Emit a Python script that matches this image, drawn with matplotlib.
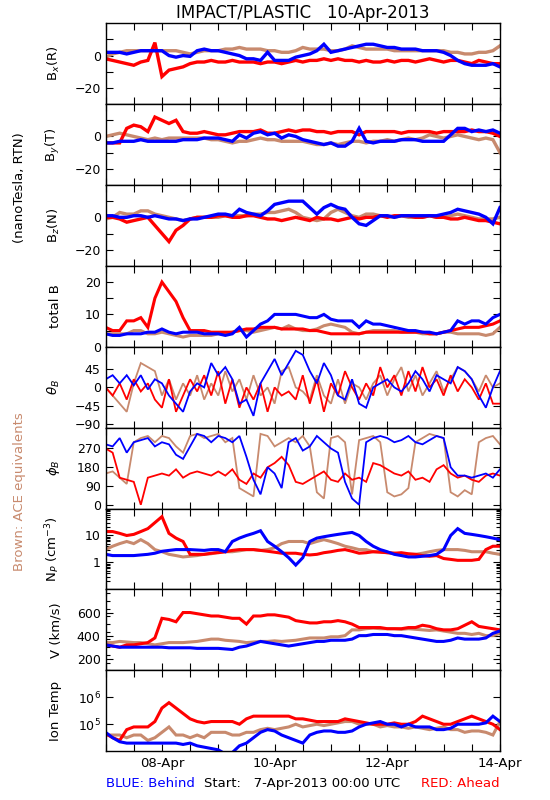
import numpy as np
import matplotlib.pyplot as plt
from matplotlib.ticker import FixedLocator, NullFormatter, LogLocator

# time axis: hours since 7-Apr-2013 00:00, one sample every 3 h
hours = np.arange(0, 169, 3)

bx_red = [-2, -3, -4, -5, -6, -4, -3, 8,
          -13, -9, -8, -7, -5, -4, -4, -3,
          -4, -4, -3, -4, -4, -4, -5, -4,
          -4, -5, -4, -3, -4, -3, -3, -2,
          -3, -2, -3, -3, -4, -3, -4, -4,
          -3, -4, -3, -3, -4, -3, -2, -3,
          -4, -3, -3, -4, -5, -3, -4, -5, -5]
bx_blue = [2, 2, 2, 1, 2, 3, 3, 3,
           3, 0, -1, 0, -0.5, 3, 4, 3,
           3, 2, 1, 0, -2, -2, -3, 2,
           -3, -3, -3, -1, 0, 1, 3, 7,
           2, 3, 4, 5, 6, 7, 7, 6,
           5, 5, 4, 4, 4, 3, 3, 3,
           2, 0, -3, -5, -6, -6, -6, -5, -7]
bx_brown = [-1, 1, 2, 3, 3, 3, 3, 3,
            3, 3, 3, 2, 1, 2, 3, 3,
            3, 4, 4, 5, 4, 4, 4, 3,
            3, 2, 2, 3, 5, 4, 4, 4,
            3, 3, 4, 6, 5, 4, 4, 4,
            4, 3, 3, 3, 3, 3, 3, 3,
            3, 2, 2, 1, 1, 2, 2, 3, 6]

by_red = [-4, -4, -4, 5, 7, 6, 3, 12,
          10, 8, 10, 3, 2, 2, 3, 2,
          1, 1, 2, 3, 3, 3, 4, 2,
          2, 3, 4, 3, 4, 4, 3, 3,
          2, 3, 3, 3, 1, 3, 3, 3,
          3, 3, 2, 3, 3, 3, 3, 2,
          3, 3, 3, 3, 4, 3, 3, 2, 0]
by_blue = [-4, -4, -3, -3, -3, -2, -3, -3,
           -3, -3, -3, -2, -2, -2, -1, -1,
           -1, -2, -3, 1, -1, 2, 3, 1,
           2, -1, 1, 0, -2, -3, -4, -5,
           -4, -6, -6, -3, 5, -3, -4, -3,
           -3, -3, -2, -2, -2, -3, -3, -3,
           -3, 1, 5, 5, 3, 4, 3, 4, 2]
by_brown = [0, 1, 2, 1, 0, -1, -2, -1,
            -2, -1, -1, -1, -1, -1, -1, -2,
            -2, -3, -4, -3, -3, -2, -1, -2,
            -2, -3, -3, -3, -3, -4, -5, -5,
            -4, -5, -4, -3, -3, -4, -3, -3,
            -2, -3, -2, -1, -2, -1, 1, 0,
            -1, 0, 1, 0, -1, -2, -1, -2, -10]

bz_red = [0, 0, -1, -3, -2, -1, 0, -5,
          -10, -15, -8, -5, -1, 0, 0, 0,
          1, 1, 0, 0, 1, 1, 0, -1,
          -1, -2, -1, 0, -1, -2, 0, -1,
          -1, -2, -1, 0, -1, 0, 0, 1,
          0, 1, 1, 1, 0, 0, 1, 0,
          0, -1, -1, 0, -1, -2, -2, -3, -4]
bz_blue = [1, 1, 0, 0, 1, 1, 0, 1,
           0, -1, -1, -2, -1, -1, 0, 1,
           2, 2, 1, 5, 3, 2, 1, 4,
           8, 9, 10, 10, 10, 6, 2, 6,
           8, 6, 5, 0, -4, -5, -2, 1,
           1, 0, 1, 1, 1, 1, 1, 1,
           2, 3, 5, 4, 3, 2, 0, -4, 6]
bz_brown = [-1, 0, 3, 2, 2, 4, 4, 2,
            1, 0, -1, -2, -1, 0, 0, 0,
            0, 1, 1, 1, 1, 2, 2, 3,
            3, 4, 5, 3, 0, -1, -2, -1,
            3, 5, 3, 1, 0, 2, 2, 1,
            1, 0, 1, 0, 0, 0, 1, 0,
            0, 1, 2, 1, 0, -1, -1, -1, 0]

bt_red = [6, 5, 5, 8, 8, 9, 6, 15,
          20, 17, 14, 9, 5, 5, 5, 4.5,
          4.5, 4.5, 4.5, 5, 5.5, 5.5, 6, 6,
          6, 5.5, 5.5, 5.5, 5.5, 5, 5, 4.5,
          4, 4, 4, 4, 4, 4.5, 4.5, 4.5,
          4.5, 4.5, 4.5, 4.5, 4.5, 4.5, 4, 4,
          4.5, 5, 5.5, 6, 6, 6, 6.5, 7, 8]
bt_blue = [4, 3.5, 3.5, 4, 4, 4, 4.5, 4.5,
           5.5, 4.5, 4, 4.5, 4.5, 4.5, 4, 4,
           4, 3.5, 4, 6, 3, 5, 7, 8,
           10, 10, 10, 10, 9.5, 9, 9, 10,
           8.5, 8, 8, 8, 6, 8, 7, 7,
           6.5, 6, 5.5, 5, 5, 4.5, 4.5, 4,
           4.5, 5, 8, 7, 8, 8, 7, 9, 10]
bt_brown = [4, 4, 4, 4, 5, 5, 4, 4,
            4.5, 4, 3.5, 3, 3.5, 3.5, 3.5, 3.5,
            4, 4, 4.5, 5, 5, 4.5, 5, 5.5,
            6, 5.5, 6.5, 5.5, 5, 5, 5.5, 6.5,
            7, 6.5, 6, 4.5, 4, 4.5, 5, 5,
            5, 5, 4.5, 4.5, 4.5, 4, 4, 4,
            4.5, 4.5, 4, 4, 4, 4, 3.5, 4, 6]

theta_red = [0, -20, 10, -30, 20, -10, 10, -30,
             -50, 20, -60, -20, 20, -10, 30, -20,
             40, -40, 20, -50, 0, -30, 10, -60,
             0, -20, -10, -30, 30, -40, 20, -60,
             10, -20, 40, 0, -30, 10, -20, 50,
             0, 30, -20, 40, -10, 50, 0, 20,
             -20, 30, -10, 20, 0, -30, 10, -40, -40]
theta_blue = [20, 30, 10, 30, 5, 30, -5, 20,
              10, -20, -40, -60, -10, 10, 0, 60,
              30, 50, 20, -40, -30, -70, 10, 40,
              70, 30, 60, 90, 80, 40, 10, 60,
              30, -20, -30, 20, -40, -50, 0, 10,
              20, 0, -10, 10, 40, 20, -10, 30,
              20, 10, 50, 40, 20, -20, -50, 0, 40]
theta_brown = [0, -20, -40, -60, 10, 60, 50, 40,
               -20, 20, -30, 10, -20, 30, -30, 10,
               -20, 40, -10, 20, -30, 30, -20, 0,
               -40, 40, 50, 0, -10, -30, 30, -20,
               -40, 20, -40, 10, 0, -30, 10, 30,
               -20, 20, 50, -10, 30, -20, 10, 40,
               -10, 20, 50, 40, 20, -10, 30, 0, 10]

phi_red = [270, 250, 130, 120, 110, 0, 130, 140,
           150, 140, 170, 130, 150, 160, 150, 140,
           160, 140, 170, 120, 100, 150, 130, 180,
           200, 230, 190, 110, 100, 120, 140, 160,
           120, 110, 150, 120, 130, 110, 200, 190,
           170, 150, 140, 160, 120, 130, 110, 170,
           190, 150, 130, 140, 120, 110, 140, 150, 140]
phi_blue = [290, 280, 320, 250, 300, 310, 320, 280,
            300, 290, 240, 220, 280, 340, 330, 300,
            330, 320, 300, 330, 230, 120, 50, 180,
            150, 80, 300, 320, 260, 280, 330, 300,
            270, 250, 110, 30, 0, 300, 320, 330,
            320, 300, 310, 330, 300, 290, 310, 330,
            320, 180, 140, 140, 130, 140, 150, 130, 170]
phi_brown = [150, 160, 130, 100, 300, 320, 330, 300,
             330, 320, 280, 250, 330, 340, 320, 330,
             340, 300, 320, 80, 60, 40, 340, 330,
             280, 300, 320, 300, 330, 280, 60, 30,
             320, 330, 300, 50, 310, 320, 330, 300,
             60, 40, 50, 80, 300, 320, 340, 330,
             320, 60, 40, 70, 50, 300, 320, 330, 290]

np_red = [14, 14, 12, 10, 11, 14, 18, 30,
          50, 12, 8, 6, 2, 2, 2, 2.2,
          2.3, 2.5, 2.8, 3, 3, 3, 2.8, 2.6,
          2.4, 2.2, 2.2, 2.2, 2, 1.9, 2, 2.3,
          2.5, 2.8, 3, 2.6, 2.2, 2.3, 2.5, 2.4,
          2.3, 2.2, 2.3, 2.1, 2, 1.8, 1.7, 1.8,
          1.4, 1.3, 1.2, 1.2, 1.2, 1.3, 3, 4, 4]
np_blue = [2, 1.8, 1.8, 1.8, 1.8, 1.9, 2, 2.2,
           2.6, 2.8, 3, 3, 3, 2.9, 2.8, 3,
           3, 2.5, 6, 8, 10, 12, 15, 6,
           4, 2.5, 1.5, 0.8, 1.5, 6, 8, 9,
           10, 11, 12, 13, 10, 6, 4, 3,
           2.5, 2, 1.8, 1.6, 1.6, 1.7, 1.8, 2,
           3, 10, 18, 12, 11, 10, 9, 8, 7]
np_brown = [3, 4, 5, 6, 5, 7, 5, 3,
            2.5, 2, 1.8, 1.6, 1.7, 1.8, 2, 2.1,
            2.4, 2.5, 2.5, 2.7, 3, 3, 2.8, 3,
            3.5, 5, 6, 6, 6, 5, 6, 7,
            6, 5, 4, 3.5, 3, 3, 2.5, 2.5,
            2.3, 2.2, 2, 2, 2, 2.2, 2.5, 2.8,
            3, 3, 3, 2.8, 2.5, 2.5, 2.5, 2.2, 2]

v_red = [320, 310, 300, 320, 320, 330, 340, 380,
         550, 540, 520, 600, 600, 590, 580, 570,
         570, 560, 550, 550, 500, 570, 570, 580,
         580, 570, 560, 530, 520, 510, 510, 520,
         520, 530, 520, 500, 470, 470, 470, 470,
         460, 460, 460, 470, 470, 490, 480, 460,
         450, 450, 460, 490, 520, 480, 470, 460, 450]
v_blue = [320, 310, 300, 300, 300, 300, 300, 300,
          300, 295, 295, 295, 295, 290, 290, 290,
          290, 285, 280, 300, 310, 330, 350, 340,
          330, 320, 310, 320, 330, 340, 350, 350,
          360, 360, 360, 370, 400, 400, 410, 410,
          410, 400, 400, 390, 380, 370, 360, 350,
          350, 360, 380, 370, 370, 370, 380, 420, 440]
v_brown = [340, 340, 350, 345, 340, 340, 330, 320,
           330, 340, 340, 340, 345, 350, 360, 370,
           370, 360, 355, 350, 340, 345, 350, 350,
           355, 350, 355, 360, 370, 380, 380, 380,
           390, 390, 400, 450, 450, 460, 465, 460,
           460, 460, 455, 460, 455, 450, 445, 450,
           440, 430, 420, 420, 410, 420, 400, 400, 420]

# ion temperature, log10(K)
logt_red = [4.65, 4.5, 4.4, 4.8, 4.9, 4.9, 4.9, 5.1,
            5.6, 5.8, 5.6, 5.4, 5.2, 5.1, 5.05, 5.1,
            5.1, 5.1, 5.1, 5.0, 5.2, 5.3, 5.3, 5.3,
            5.3, 5.3, 5.3, 5.2, 5.2, 5.15, 5.1, 5.1,
            5.1, 5.1, 5.2, 5.15, 5.1, 5.05, 5.0, 5.0,
            5.0, 5.05, 5.0, 5.0, 5.1, 5.3, 5.2, 5.1,
            5.0, 5.0, 5.1, 5.2, 5.3, 5.2, 5.1, 5.0, 4.8]
logt_blue = [4.7, 4.5, 4.35, 4.3, 4.3, 4.3, 4.3, 4.3,
             4.3, 4.3, 4.3, 4.25, 4.3, 4.2, 4.15, 4.1,
             4.05, 3.9, 3.95, 4.2, 4.3, 4.5, 4.7, 4.8,
             4.75, 4.6, 4.5, 4.4, 4.3, 4.6, 4.7, 4.75,
             4.75, 4.7, 4.7, 4.75, 4.9, 5.0, 5.05, 5.1,
             5.0, 5.0, 4.9, 5.0, 4.9, 4.9, 4.9, 4.8,
             4.8, 4.85, 5.0, 5.0, 5.0, 5.0, 5.05, 5.3, 5.1]
logt_brown = [4.6, 4.6, 4.6, 4.5, 4.6, 4.6, 4.4, 4.5,
              4.7, 4.9, 4.6, 4.6, 4.5, 4.6, 4.5, 4.7,
              4.7, 4.7, 4.6, 4.6, 4.7, 4.7, 4.8, 4.85,
              4.8, 4.85, 4.9, 5.0, 4.9, 4.95, 5.0, 4.95,
              5.0, 5.05, 5.1, 5.1, 5.0, 5.0, 5.0, 4.9,
              4.95, 4.9, 4.9, 4.85, 4.9, 4.85, 4.8, 4.85,
              4.9, 4.8, 4.8, 4.7, 4.75, 4.75, 4.7, 4.6, 5.1]

date_labels = ["08-Apr", "10-Apr", "12-Apr", "14-Apr"]

RED = "#ff0000"
BLUE = "#0000ff"
BROWN = "#c88a6e"


def draw_panel(ax, brown, red, blue, lw):
    t = hours / 24.0
    ax.plot(t, brown, color=BROWN, lw=lw, solid_joinstyle="miter")
    ax.plot(t, red, color=RED, lw=lw, solid_joinstyle="miter")
    ax.plot(t, blue, color=BLUE, lw=lw, solid_joinstyle="miter")


def main():
    plt.rcParams["font.family"] = ["DejaVu Sans"]
    plt.rcParams["font.size"] = 9
    plt.rcParams["axes.linewidth"] = 1.0

    fig, axes = plt.subplots(9, 1, figsize=(5.5, 8), dpi=100, sharex=True)
    fig.subplots_adjust(left=0.192, right=0.909, bottom=0.061, top=0.971,
                        hspace=0)

    panels = [
        (bx_brown, bx_red, bx_blue, "B$_x$(R)", 2.4),
        (by_brown, by_red, by_blue, "B$_y$(T)", 2.4),
        (bz_brown, bz_red, bz_blue, "B$_z$(N)", 2.4),
        (bt_brown, bt_red, bt_blue, "total B", 2.2),
        (theta_brown, theta_red, theta_blue, r"$\theta_B$", 1.3),
        (phi_brown, phi_red, phi_blue, r"$\phi_B$", 1.3),
        (np_brown, np_red, np_blue, "N$_P$ (cm$^{-3}$)", 2.2),
        (v_brown, v_red, v_blue, "V (km/s)", 2.2),
        (10 ** np.array(logt_brown), 10 ** np.array(logt_red),
         10 ** np.array(logt_blue), "Ion Temp", 2.2),
    ]

    for ax, (brown, red, blue, label, lw) in zip(axes, panels):
        draw_panel(ax, brown, red, blue, lw)
        ax.set_ylabel(label, fontsize=9.5)
        ax.yaxis.set_label_coords(-0.11, 0.5)
        ax.tick_params(direction="in", top=True, right=True,
                       length=5, width=0.8, labelsize=9)
        ax.tick_params(which="minor", direction="in", top=True, right=True,
                       length=3, width=0.8)

    for ax in axes[:3]:
        ax.set_ylim(-30, 20)
        ax.set_yticks([-20, -10, 0, 10])
        ax.set_yticklabels(["\u221220", "", "0", ""])

    axes[3].set_ylim(0, 25)
    axes[3].set_yticks([0, 5, 10, 15, 20])
    axes[3].set_yticklabels(["0", "", "10", "", "20"])

    axes[4].set_ylim(-99, 100)
    axes[4].set_yticks([-90, -45, 0, 45])
    axes[4].set_yticklabels(["\u221290", "\u221245", "0", "45"])

    axes[5].set_ylim(-18, 370)
    axes[5].set_yticks([0, 90, 180, 270])

    axes[6].set_yscale("log")
    axes[6].set_ylim(0.1, 100)
    axes[6].set_yticks([1, 10])
    axes[6].set_yticklabels(["1", "10"])
    axes[6].yaxis.set_minor_locator(LogLocator(subs=np.arange(2, 10)))
    axes[6].yaxis.set_minor_formatter(NullFormatter())

    axes[7].set_ylim(100, 800)
    axes[7].set_yticks([200, 400, 600])
    axes[7].yaxis.set_minor_locator(FixedLocator(np.arange(100, 800, 200 / 3)))

    axes[8].set_yscale("log")
    axes[8].set_ylim(1e4, 1e7)
    axes[8].set_yticks([1e5, 1e6])
    axes[8].set_yticklabels(["10$^5$", "10$^6$"])
    axes[8].yaxis.set_minor_locator(FixedLocator([]))

    axes[-1].set_xlim(0, 7)
    axes[-1].set_xticks(np.arange(0, 7.01, 0.5))
    axes[-1].set_xticklabels(["" if d % 2 != 1 else date_labels[int(d) // 2]
                              for d in np.arange(0, 7.01, 0.5)])
    axes[-1].tick_params(axis="x", labelsize=9.5, pad=4)

    fig.suptitle("IMPACT/PLASTIC   10-Apr-2013", x=0.55, y=0.995,
                 fontsize=12)

    fig.text(0.036, 0.765, "(nanoTesla, RTN)", rotation=90,
             ha="center", va="center", fontsize=9.5)
    fig.text(0.036, 0.385, "Brown: ACE equivalents", rotation=90,
             ha="center", va="center", fontsize=9.5, color=BROWN)

    fig.text(0.192, 0.021, "BLUE: Behind", color=BLUE, fontsize=9.5,
             ha="left", va="center")
    fig.text(0.55, 0.021, "Start:   7-Apr-2013 00:00 UTC", color="black",
             fontsize=9.5, ha="center", va="center")
    fig.text(0.909, 0.021, "RED: Ahead", color=RED, fontsize=9.5,
             ha="right", va="center")

    fig.savefig("out.png", dpi=100)


if __name__ == "__main__":
    main()
